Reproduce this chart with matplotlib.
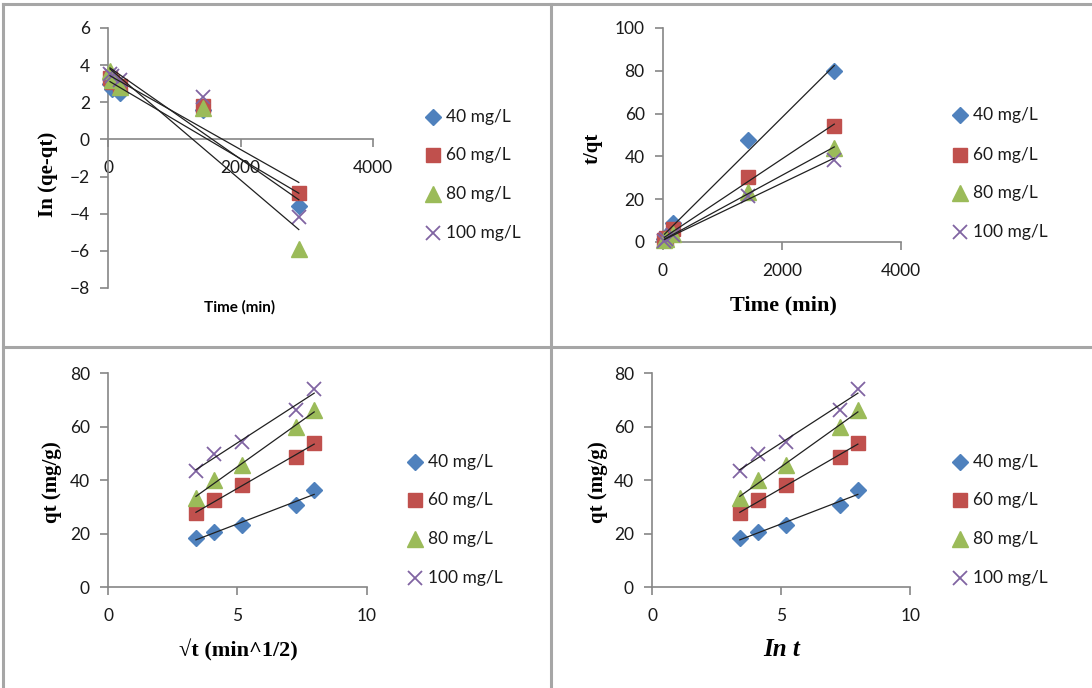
"""
Adsorption kinetics: pseudo-first order, pseudo-second order,
intraparticle diffusion and Elovich plots for four initial concentrations.
"""

import numpy as np
import matplotlib.pyplot as plt
from matplotlib.lines import Line2D

W, H = 1092, 688

# ── Data ──────────────────────────────────────────────────────────────────────
labels = ["40 mg/L", "60 mg/L", "80 mg/L", "100 mg/L"]

time_min = [30, 60, 180, 1440, 2880]
ln_t = [3.40, 4.09, 5.19, 7.27, 7.97]

ln_qe_qt = {
    "40 mg/L":  [3.0, 2.7, 2.5, 1.6, -3.6],
    "60 mg/L":  [3.3, 3.1, 2.9, 1.8, -2.9],
    "80 mg/L":  [3.7, 3.2, 2.8, 1.7, -5.9],
    "100 mg/L": [3.5, 3.4, 3.2, 2.3, -4.2],
}

t_over_qt = {
    "40 mg/L":  [1.6, 2.9, 9.0, 47.5, 80.0],
    "60 mg/L":  [1.1, 1.9, 6.0, 30.5, 54.0],
    "80 mg/L":  [0.9, 1.5, 3.9, 23.5, 44.0],
    "100 mg/L": [0.7, 1.2, 3.3, 21.5, 38.5],
}

qt = {
    "40 mg/L":  [18.5, 20.5, 23.2, 30.8, 36.3],
    "60 mg/L":  [27.6, 32.5, 38.1, 48.8, 54.1],
    "80 mg/L":  [33.4, 40.0, 45.8, 60.0, 66.2],
    "100 mg/L": [43.3, 50.0, 54.4, 66.2, 74.3],
}

# ── Excel-ish styling ─────────────────────────────────────────────────────────
COLORS = {"40 mg/L": "#4F81BD", "60 mg/L": "#C0504D",
          "80 mg/L": "#9BBB59", "100 mg/L": "#8064A2"}
MARKERS = {"40 mg/L": ("D", 8), "60 mg/L": ("s", 10),
           "80 mg/L": ("^", 11), "100 mg/L": ("x", 10)}
AXIS_GREY = "#868686"
SANS = ["Lato", "DejaVu Sans"]
SERIF = ["Liberation Serif", "DejaVu Serif"]

plt.rcParams["font.family"] = SANS


def px_axes(fig, x0, x1, y_top, y_bot):
    """Axes placed by pixel coordinates of the plot area."""
    return fig.add_axes([x0 / W, 1 - y_bot / H, (x1 - x0) / W, (y_bot - y_top) / H])


def style_axes(ax):
    for side in ("top", "right"):
        ax.spines[side].set_visible(False)
    for side in ("left", "bottom"):
        ax.spines[side].set_color(AXIS_GREY)
        ax.spines[side].set_linewidth(1.2)
    ax.tick_params(direction="out", length=6, width=1.2, color=AXIS_GREY,
                   labelsize=12.5, labelcolor="#1a1a1a")
    ax.tick_params(axis="x", pad=9)
    ax.tick_params(axis="y", pad=7)


def plot_series(ax, x, ys):
    for lab in labels:
        m, s = MARKERS[lab]
        kw = dict(marker=m, markersize=s, linestyle="none", color=COLORS[lab],
                  clip_on=False, zorder=3)
        if m == "x":
            kw["markeredgewidth"] = 1.3
        ax.plot(x, ys[lab], **kw)
    # linear trendlines over the data range
    for lab in labels:
        k, b = np.polyfit(x, ys[lab], 1)
        xx = np.array([min(x), max(x)])
        ax.plot(xx, k * xx + b, color="#202020", linewidth=0.9, zorder=4,
                clip_on=False)


def add_legend(fig, x_marker, y_rows):
    for lab, yr in zip(labels, y_rows):
        m, s = MARKERS[lab]
        kw = dict(marker=m, markersize=s, linestyle="none", color=COLORS[lab])
        if m == "x":
            kw["markeredgewidth"] = 1.3
        fig.add_artist(Line2D([x_marker / W], [1 - yr / H], transform=fig.transFigure, **kw))
        fig.text((x_marker + 13) / W, 1 - yr / H, lab, fontsize=12.5,
                 va="center", ha="left", color="#1a1a1a")


def set_label_px(ax, fig, axis, text, cx, cy, **kw):
    if axis == "y":
        ax.set_ylabel(text, **kw)
        ax.yaxis.set_label_coords(cx / W, 1 - cy / H, transform=fig.transFigure)
        lbl = ax.yaxis.label
    else:
        ax.set_xlabel(text, **kw)
        ax.xaxis.set_label_coords(cx / W, 1 - cy / H, transform=fig.transFigure)
        lbl = ax.xaxis.label
    lbl.set_verticalalignment("center")
    lbl.set_horizontalalignment("center")


def main():
    fig = plt.figure(figsize=(W / 100, H / 100), dpi=100)

    # panel frames
    frame = dict(color="#a6a6a6", linewidth=2.2, transform=fig.transFigure)
    fig.add_artist(Line2D([3 / W, 3 / W], [0, 1 - 4 / H], **frame))
    fig.add_artist(Line2D([551 / W, 551 / W], [0, 1 - 4 / H], **frame))
    fig.add_artist(Line2D([3 / W, 1], [1 - 4 / H, 1 - 4 / H], **frame))
    fig.add_artist(Line2D([3 / W, 1], [1 - 347 / H, 1 - 347 / H], **frame))

    # ── 1. pseudo-first order ────────────────────────────────────────────────
    ax1 = px_axes(fig, 108, 373, 28, 288)
    style_axes(ax1)
    plot_series(ax1, time_min, ln_qe_qt)
    ax1.set_xlim(0, 4000)
    ax1.set_ylim(-8, 6)
    ax1.set_xticks([0, 2000, 4000])
    ax1.set_yticks(range(-8, 7, 2))
    ax1.spines["left"].set_position(("data", 0))
    ax1.spines["bottom"].set_position(("data", 0))
    set_label_px(ax1, fig, "y", "In (qe-qt)", 48, 174,
                 family=SERIF, fontsize=15, fontweight="bold")
    set_label_px(ax1, fig, "x", "Time (min)", 240, 307,
                 fontsize=11, fontweight="bold")
    add_legend(fig, 433, [117, 155, 194, 233])

    # ── 2. pseudo-second order ───────────────────────────────────────────────
    ax2 = px_axes(fig, 662.7, 901, 28, 242)
    style_axes(ax2)
    plot_series(ax2, time_min, t_over_qt)
    ax2.set_xlim(0, 4000)
    ax2.set_ylim(0, 100)
    ax2.set_xticks([0, 2000, 4000])
    ax2.set_yticks(range(0, 101, 20))
    set_label_px(ax2, fig, "y", "t/qt", 593, 148,
                 family=SERIF, fontsize=15, fontweight="bold")
    set_label_px(ax2, fig, "x", "Time (min)", 783, 305,
                 family=SERIF, fontsize=16, fontweight="bold")
    add_legend(fig, 960, [115, 155, 193, 232])

    # ── 3. intraparticle diffusion ───────────────────────────────────────────
    ax3 = px_axes(fig, 108, 366.7, 373.3, 587.3)
    style_axes(ax3)
    plot_series(ax3, ln_t, qt)
    ax3.set_xlim(0, 10)
    ax3.set_ylim(0, 80)
    ax3.set_xticks([0, 5, 10])
    ax3.set_yticks(range(0, 81, 20))
    set_label_px(ax3, fig, "y", "qt (mg/g)", 52, 482,
                 family=SERIF, fontsize=15, fontweight="bold")
    set_label_px(ax3, fig, "x", "\u221at (min^1/2)", 238, 650,
                 family=SERIF, fontsize=16, fontweight="bold")
    add_legend(fig, 415, [462, 500, 539, 578])

    # ── 4. Elovich ───────────────────────────────────────────────────────────
    ax4 = px_axes(fig, 652, 910.3, 373.3, 587.3)
    style_axes(ax4)
    plot_series(ax4, ln_t, qt)
    ax4.set_xlim(0, 10)
    ax4.set_ylim(0, 80)
    ax4.set_xticks([0, 5, 10])
    ax4.set_yticks(range(0, 81, 20))
    set_label_px(ax4, fig, "y", "qt (mg/g)", 598, 482,
                 family=SERIF, fontsize=15, fontweight="bold")
    set_label_px(ax4, fig, "x", "In t", 782, 650,
                 family=SERIF, fontsize=18, fontweight="bold", fontstyle="italic")
    add_legend(fig, 960, [462, 500, 539, 578])

    fig.savefig("out.png", dpi=100)
    plt.close(fig)


if __name__ == "__main__":
    main()
